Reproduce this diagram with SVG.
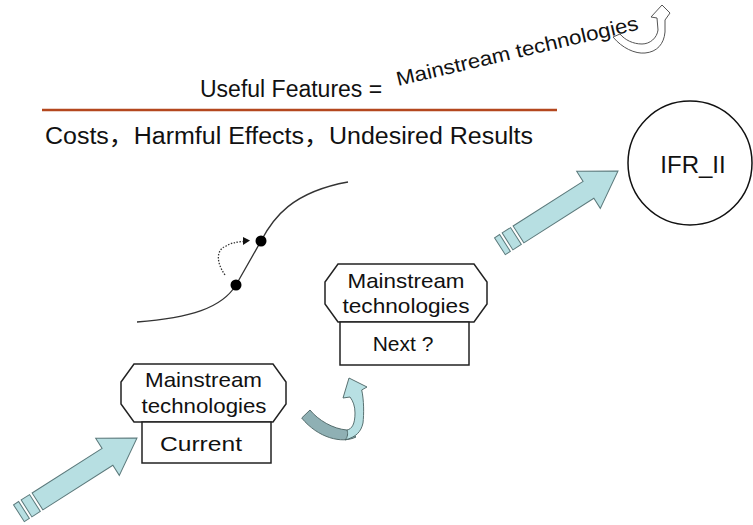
<svg xmlns="http://www.w3.org/2000/svg" width="753" height="525" viewBox="0 0 753 525">
<defs>
<style>
text{font-family:"Liberation Sans","Noto Sans CJK SC",Arial,sans-serif;fill:#111}
.box{fill:#fff;stroke:#222;stroke-width:1.5}
.big{fill:#B7DFE2;stroke:#5C7A7C;stroke-width:1}
.curve{fill:none;stroke:#333;stroke-width:1.3}
</style>
<g id="bigArrow">
<path d="M0,0 L-35,-22 L-35,-10 L-118,-10 L-118,10 L-35,10 L-35,22 Z"/>
<rect x="-131" y="-10" width="10" height="20"/>
<rect x="-140" y="-10" width="6" height="20"/>
</g>
</defs>
<rect width="753" height="525" fill="#fff"/>

<g id="header">
<text x="200" y="97" font-size="23">Useful Features =</text>
<text font-size="20" transform="translate(398,86) rotate(-13.2)" textLength="248" lengthAdjust="spacingAndGlyphs">Mainstream technologies</text>
<path d="M613,37 C622,48 635,54 645,53 C657,52 664,44 665,32 L665,20 L670,13 L662,5 L651,17 L657,18 L658,30 C657,38 650,44 642,44 C633,44 625,40 620,34 Z" fill="#fff" fill-opacity="0.6" stroke="#555" stroke-width="1"/>
<line x1="42" y1="110" x2="557" y2="110" stroke="#B4471E" stroke-width="2.5"/>
<text x="45" y="144" font-size="23" textLength="488" lengthAdjust="spacingAndGlyphs">Costs，Harmful Effects，Undesired Results</text>
</g>

<g id="scurve">
<path class="curve" d="M137,322 C190,318 222,308 236,285 L261,241 C273,218 292,192 348,182"/>
<circle cx="236" cy="285" r="5.5" fill="#000"/>
<circle cx="261" cy="241" r="5.5" fill="#000"/>
<path d="M225,275 C216,262 216,250 226,246 C231,243 236,242 243,241.5" fill="none" stroke="#333" stroke-width="1.3" stroke-dasharray="1.5 1.5"/>
<polygon points="250,240.5 243,237 243,245" fill="#111"/>
</g>

<g id="node-current">
<polygon class="box" points="134,364 273,364 286,382 286,404 273,422 134,422 121,404 121,382"/>
<rect class="box" x="142" y="422" width="129" height="41"/>
<text x="203.5" y="387" font-size="21" text-anchor="middle" textLength="117" lengthAdjust="spacingAndGlyphs">Mainstream</text>
<text x="204" y="413" font-size="21" text-anchor="middle" textLength="125" lengthAdjust="spacingAndGlyphs">technologies</text>
<text x="201" y="451" font-size="21" text-anchor="middle" textLength="82" lengthAdjust="spacingAndGlyphs">Current</text>
</g>

<g id="node-next">
<polygon class="box" points="338,264 474,264 487,282 487,304 474,322 338,322 325,304 325,282"/>
<rect class="box" x="340" y="322" width="129" height="43"/>
<text x="406" y="288" font-size="21" text-anchor="middle" textLength="117" lengthAdjust="spacingAndGlyphs">Mainstream</text>
<text x="406" y="313" font-size="21" text-anchor="middle" textLength="127" lengthAdjust="spacingAndGlyphs">technologies</text>
<text x="403" y="351" font-size="21" text-anchor="middle">Next ?</text>
</g>

<g id="node-ifr">
<circle cx="690" cy="163" r="62" fill="#fff" stroke="#111" stroke-width="1.5"/>
<text x="693" y="173" font-size="24" text-anchor="middle">IFR_II</text>
</g>

<g id="connectors">
<use href="#bigArrow" class="big" transform="translate(137,438) rotate(-32.5)"/>
<use href="#bigArrow" class="big" transform="translate(618,171) rotate(-32.5)"/>
<path d="M301.7,418 L310,410 C318,420 333,429 347,430 L356,437 C342,444 318,438 301.7,418 Z" fill="#8FB0B4" stroke="#4A6262" stroke-width="0.9"/>
<path d="M347,430 C352,429 355,424 355,413 C355,406 353,401 350,397 L343,398 L349,378 L367,387 L361.7,390 C364,400 364,414 363,423 C361,432 356,437 345,440 C348,437 348,433 347,430 Z" fill="#B8E0E3" stroke="#4A6262" stroke-width="0.9"/>
</g>
</svg>
